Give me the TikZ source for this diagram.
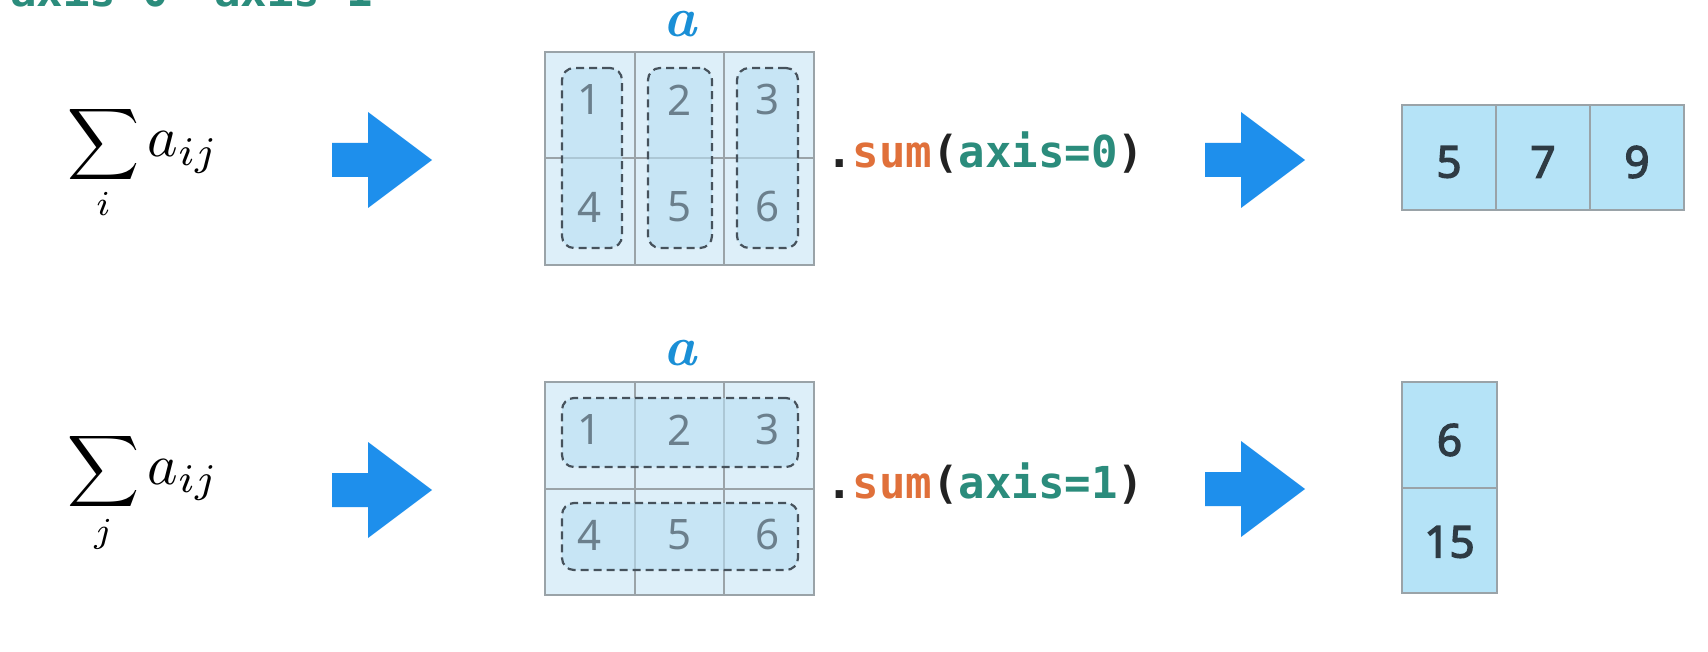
\documentclass[tikz,border=0pt]{standalone}
\usepackage{fontspec}
\usetikzlibrary{fit}
\newfontfamily\codefont{DejaVu Sans Mono}
\newfontfamily\numfont{Noto Sans}
\newfontfamily\numboldfont{Noto Sans}[FakeBold=3]
\definecolor{cellblue}{HTML}{DDEFF9}
\definecolor{groupblue}{HTML}{B9DFF3}
\definecolor{gridgray}{HTML}{9AA3A8}
\definecolor{dashgray}{HTML}{46525C}
\definecolor{digitgray}{HTML}{6B7F8C}
\definecolor{resblue}{HTML}{B5E3F7}
\definecolor{resdigit}{HTML}{2E3B44}
\definecolor{arrowblue}{HTML}{1E8FEC}
\definecolor{ablue}{HTML}{1A8FD6}
\definecolor{codeorange}{HTML}{E0703A}
\definecolor{codeteal}{HTML}{2B8C7C}
\definecolor{codeblack}{HTML}{222222}
\begin{document}
\begin{tikzpicture}[x=0.5pt,y=-0.5pt,
  cell/.style={draw=gridgray, line width=1pt, fill=cellblue, minimum width=44.83pt, minimum height=53.25pt, inner sep=0, outer sep=0},
  dgroup/.style={draw=dashgray, line width=1.1pt, dash pattern=on 4pt off 2.5pt, rounded corners=6pt, fill=groupblue, fill opacity=0.6, inner sep=0},
  mdigit/.style={text=digitgray, font=\numfont\fontsize{21}{21}\selectfont, inner sep=0},
  rcell/.style={draw=gridgray, line width=1pt, fill=resblue, minimum width=47pt, minimum height=52.5pt, inner sep=0, outer sep=0},
  rdigit/.style={text=resdigit, font=\numboldfont\fontsize{22}{22}\selectfont, inner sep=0},
  code/.style={text=codeblack, font=\codefont\bfseries\fontsize{22}{22}\selectfont, inner sep=0, anchor=base west},
  alabel/.style={text=ablue, font=\fontsize{28}{28}\selectfont\bfseries\itshape, inner sep=0},
  formula/.style={scale=2.5, inner sep=0, anchor=base west},
  bigarrow/.pic={\fill[arrowblue] (-50,-17) -- (-14,-17) -- (-14,-48) -- (50,0) -- (-14,48) -- (-14,17) -- (-50,17) -- cycle;}
]
\useasboundingbox (0,0) rectangle (1708,652);
\clip (0,0) rectangle (1708,652);
\fill[white] (0,0) rectangle (1708,652);

% clipped header text
\node[code, text=codeteal] (h0) at (10,7) {axis=0};
\node[code, text=codeteal] (h1) at (214,7) {axis=1};

% formulas
\node[formula] (f1) at (66,157) {$\displaystyle\sum_i \scalebox{1.16}{$a_{ij}$}$};
\node[formula] (f2) at (66,484) {$\displaystyle\sum_j \scalebox{1.16}{$a_{ij}$}$};

% arrows
\pic (ar1) at (382,160) {bigarrow};
\pic (ar2) at (1255,160) {bigarrow};
\pic (ar3) at (382,490) {bigarrow};
\pic (ar4) at (1255,489) {bigarrow};

% top matrix
\node[alabel] (la) at (680,24) {a};
\foreach \c/\x in {1/589.83,2/679.5,3/769.17}{
  \node[cell] (ta1\c) at (\x,105.25) {};
  \node[cell] (ta2\c) at (\x,211.75) {};
}
\node[dgroup, fit={(562,68) (622,248)}] (tg1) {};
\node[dgroup, fit={(648,68) (712,248)}] (tg2) {};
\node[dgroup, fit={(737,68) (798,248)}] (tg3) {};
\node[mdigit] (td1) at (590,100) {1};
\node[mdigit] (td2) at (680,100) {2};
\node[mdigit] (td3) at (768,100) {3};
\node[mdigit] (td4) at (590,207) {4};
\node[mdigit] (td5) at (680,207) {5};
\node[mdigit] (td6) at (768,207) {6};

% bottom matrix
\node[alabel] (lb) at (680,353) {a};
\foreach \c/\x in {1/589.83,2/679.5,3/769.17}{
  \node[cell] (ba1\c) at (\x,435.25) {};
  \node[cell] (ba2\c) at (\x,541.75) {};
}
\node[dgroup, fit={(562,398) (798,467)}] (bg1) {};
\node[dgroup, fit={(562,503) (798,570)}] (bg2) {};
\node[mdigit] (bd1) at (590,430) {1};
\node[mdigit] (bd2) at (680,430) {2};
\node[mdigit] (bd3) at (768,430) {3};
\node[mdigit] (bd4) at (590,535) {4};
\node[mdigit] (bd5) at (680,535) {5};
\node[mdigit] (bd6) at (768,535) {6};

% code
\node[code] (c1) at (826,168) {.\textcolor{codeorange}{sum}(\textcolor{codeteal}{axis=0})};
\node[code] (c2) at (826,498) {.\textcolor{codeorange}{sum}(\textcolor{codeteal}{axis=1})};

% results
\node[rcell] (r1) at (1449,157.5) {};
\node[rcell] (r2) at (1543,157.5) {};
\node[rcell] (r3) at (1637,157.5) {};
\node[rdigit] (rd1) at (1449,162) {5};
\node[rdigit] (rd2) at (1543,162) {7};
\node[rdigit] (rd3) at (1637,162) {9};
\node[rcell, minimum width=47.5pt, minimum height=52.75pt] (s1) at (1449.5,434.75) {};
\node[rcell, minimum width=47.5pt, minimum height=52.75pt] (s2) at (1449.5,540.25) {};
\node[rdigit] (sd1) at (1449.5,440) {6};
\node[rdigit] (sd2) at (1449.5,542) {15};
\end{tikzpicture}
\end{document}
